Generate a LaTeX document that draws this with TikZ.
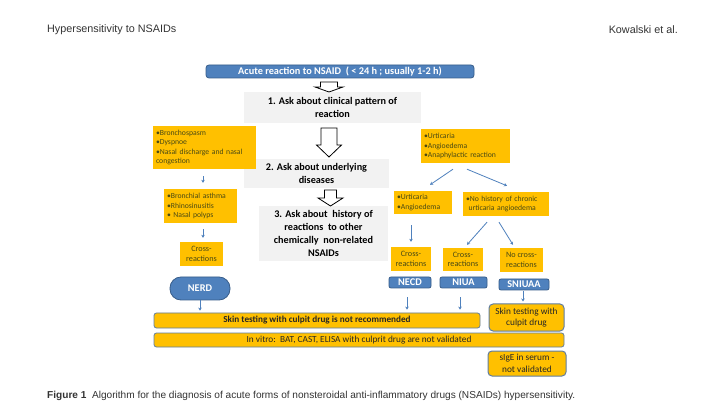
\documentclass[tikz,border=0pt]{standalone}
\usepackage{fontspec}
\setmainfont{Carlito}
\newfontfamily\hdrfont{Liberation Sans}
\usetikzlibrary{arrows.meta}
\definecolor{yel}{HTML}{FFC000}
\definecolor{bfill}{HTML}{4F81BD}
\definecolor{bdraw}{HTML}{385D8A}
\definecolor{gfill}{HTML}{F2F2F2}
\definecolor{olv}{HTML}{4A4A14}
\definecolor{arrc}{HTML}{4F81BD}
\definecolor{hdr}{HTML}{333333}
\begin{document}
\begin{tikzpicture}[x=1pt,y=-1pt,
  ybox/.style={fill=yel, inner xsep=3pt, inner ysep=0pt, text=olv, font=\fontsize{7.7}{9.5}\selectfont},
  cbox/.style={fill=yel, inner sep=0pt, text=olv, align=center, font=\fontsize{8.2}{9.5}\selectfont},
  gbox/.style={fill=gfill, inner sep=0pt, align=center, text=black, font=\bfseries\fontsize{10.2}{13}\selectfont},
  bbox/.style={fill=bfill, draw=bdraw, line width=0.8pt, rounded corners=2pt, inner sep=0pt, text=white, font=\bfseries\fontsize{10.3}{11}\selectfont},
  bar/.style={fill=yel, draw=bdraw!80!white, line width=0.8pt, rounded corners=2.5pt, inner sep=0pt, text=black!85, align=center, font=\fontsize{9.3}{11.5}\selectfont},
  sarr/.style={draw=arrc, line width=0.8pt, -{Stealth[length=3pt,width=3.5pt]}},
  hollow/.style={draw=black, fill=white, line width=0.8pt, line join=miter}]
\useasboundingbox (0,0) rectangle (710,406);
\fill[white] (0,0) rectangle (710,406);

% header and caption
\node[anchor=west, inner sep=0pt, text=hdr, font=\hdrfont\fontsize{10.8}{12}\selectfont] (hl) at (47,30) {Hypersensitivity to NSAIDs};
\node[anchor=east, inner sep=0pt, text=hdr, font=\hdrfont\fontsize{10.8}{12}\selectfont] (hr) at (678,30) {Kowalski et al.};
\node[anchor=west, inner sep=0pt, text=hdr, font=\hdrfont\fontsize{10.1}{12}\selectfont] (cap) at (47,396) {\textbf{Figure 1}\ \ Algorithm for the diagnosis of acute forms of nonsteroidal anti-inflammatory drugs (NSAIDs) hypersensitivity.};

% central column
\node[bbox, minimum width=268pt, minimum height=13pt, rounded corners=3pt] (top) at (340,71.5) {Acute reaction to NSAID\ \ ( < 24 h ; usually 1-2 h)};
\node[gbox, minimum width=177pt, minimum height=31pt] (g1) at (332.5,107.5) {1. Ask about clinical pattern of\\reaction};
\node[gbox, minimum width=145pt, minimum height=29pt] (g2) at (316.5,173.5) {2. Ask about underlying\\diseases};
\node[gbox, minimum width=129pt, minimum height=55pt] (g3) at (323.5,233.5) {3. Ask about\ \ history of\\reactions\ \ to other\\chemically\ \ non-related\\NSAIDs};

\draw[hollow] (320.5,82) -- (337.5,82) -- (337.5,87) -- (343,87) -- (329,92) -- (315,87) -- (320.5,87) -- cycle;
\draw[hollow] (321,128) -- (337,128) -- (337,145) -- (341.5,145) -- (329,157) -- (316.5,145) -- (321,145) -- cycle;
\draw[hollow] (324.5,190) -- (336.5,190) -- (336.5,198) -- (343,198) -- (330.5,206) -- (318,198) -- (324.5,198) -- cycle;

% left column
\node[ybox, minimum width=103pt, minimum height=43pt, text width=97pt, align=left] (yL1) at (204.5,147.5) {•Bronchospasm\\•Dyspnoe\\•Nasal discharge and nasal\\congestion};
\node[ybox, minimum width=73pt, minimum height=34pt, text width=67pt, align=left] (yL2) at (200.5,206) {•Bronchial asthma\\•Rhinosinusitis\\• Nasal polyps};
\node[cbox, minimum width=43pt, minimum height=24pt] (crL) at (201.5,254) {Cross-\\reactions};
\node[bbox, minimum width=60pt, minimum height=23pt, rounded corners=11pt] (nerd) at (200,288.5) {NERD};

% right column
\node[ybox, minimum width=89pt, minimum height=34pt, text width=83pt, align=left] (yR1) at (465.5,146) {•Urticaria\\•Angioedema\\•Anaphylactic reaction};
\node[ybox, minimum width=58pt, minimum height=23pt, text width=52pt, align=left] (yR2) at (423,202.5) {•Urticaria\\•Angioedema};
\node[ybox, minimum width=86pt, minimum height=24pt, text width=80pt, align=left] (yR3) at (506,204) {•No history of chronic\\\ urticaria angioedema};
\node[cbox, minimum width=40pt, minimum height=24pt] (cr1) at (411,259) {Cross-\\reactions};
\node[cbox, minimum width=40pt, minimum height=23pt] (cr2) at (463,259.5) {Cross-\\reactions};
\node[cbox, minimum width=43pt, minimum height=24pt] (cr3) at (521.5,260) {No cross-\\reactions};
\node[bbox, minimum width=42pt, minimum height=11pt] (necd) at (410,282.5) {NECD};
\node[bbox, minimum width=47pt, minimum height=11pt] (niua) at (463.5,282.5) {NIUA};
\node[bbox, minimum width=50pt, minimum height=11pt] (sniuaa) at (524,284.5) {SNIUAA};

% bottom
\node[bar, minimum width=326pt, minimum height=15pt, font=\bfseries\fontsize{9.2}{11}\selectfont] (bar1) at (317,320.5) {Skin testing with culpit drug is not recommended};
\node[bar, minimum width=410pt, minimum height=14pt] (bar2) at (359,340) {In vitro:\ \ BAT, CAST, ELISA with culprit drug are not validated};
\node[bar, minimum width=75pt, minimum height=27pt, rounded corners=4pt, line width=1pt] (skin) at (526.5,317.5) {Skin testing with\\culpit drug};
\node[bar, minimum width=78pt, minimum height=25pt, rounded corners=4pt, line width=1pt] (sige) at (527,363.5) {sIgE in serum -\\not validated};

% connectors
\coordinate (t3) at (nerd.south |- bar1.north);
\coordinate (t9) at (necd.south |- bar1.north);
\coordinate (t10) at (niua.south |- bar1.north);
\draw[sarr] ([xshift=-1.5pt,yshift=-7pt]yL1.south) -- ([xshift=2.5pt,yshift=6pt]yL2.north);
\draw[sarr] ([xshift=2.5pt,yshift=-6pt]yL2.south) -- ([xshift=1.5pt,yshift=4pt]crL.north);
\draw[sarr] (nerd.south) -- ([yshift=2pt]t3);
\draw[sarr] ([xshift=-12.5pt,yshift=-6pt]yR1.south) -- ([xshift=7pt,yshift=6pt]yR2.north);
\draw[sarr] ([xshift=1.5pt,yshift=-6pt]yR1.south) -- ([xshift=1pt,yshift=6pt]yR3.north);
\draw[sarr] ([xshift=-12pt,yshift=-11pt]yR2.south) -- ([yshift=5pt]cr1.north);
\draw[sarr] ([xshift=-19pt,yshift=-6pt]yR3.south) -- ([xshift=4pt,yshift=3pt]cr2.north);
\draw[sarr] ([xshift=-7pt,yshift=-6pt]yR3.south) -- ([xshift=-8.5pt,yshift=3pt]cr3.north);
\draw[sarr] ([xshift=-3pt,yshift=-9pt]necd.south) -- ([xshift=-3pt,yshift=3pt]t9);
\draw[sarr] ([xshift=-3.5pt,yshift=-9pt]niua.south) -- ([xshift=-3.5pt,yshift=3pt]t10);
\draw[sarr] ([xshift=-1pt,yshift=-1pt]sniuaa.south) -- ([xshift=-3.5pt,yshift=2pt]skin.north);
\end{tikzpicture}
\end{document}
